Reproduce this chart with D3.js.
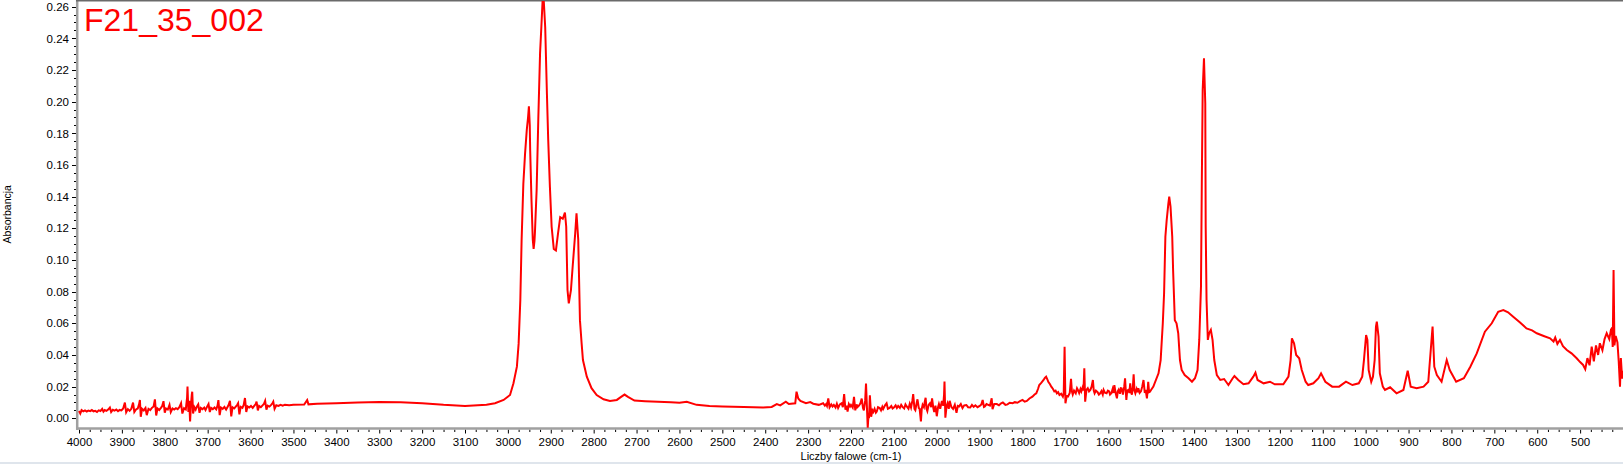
<!DOCTYPE html>
<html><head><meta charset="utf-8">
<script src="https://cdn.jsdelivr.net/npm/d3@7"></script>
<style>
html,body{margin:0;padding:0;background:#fff;overflow:hidden}
svg{display:block}
text{font-family:"Liberation Sans",Arial,sans-serif}
</style></head>
<body>
<svg id="c" width="1623" height="464"></svg>
<script>
// ---- data ----
const title = "F21_35_002";
const xLabel = "Liczby falowe (cm-1)";
const yLabel = "Absorbancja";
const xTickValues = d3.range(4000, 499, -100);
const yTickValues = [0,0.02,0.04,0.06,0.08,0.10,0.12,0.14,0.16,0.18,0.20,0.22,0.24,0.26];

// wavenumber (cm-1) / absorbance pairs, descending wavenumber
const highRegion = [
[4000,.0046],[3997,.0030],[3994,.0052],[3990,.0044],[3986,.0050],[3982,.0043],[3978,.0049],[3974,.0045],[3970,.0052],
[3966,.0044],[3962,.0047],[3958,.0040],[3954,.0050],[3950,.0046],[3946,.0060],[3943,.0042],[3940,.0052],[3936,.0047],
[3932,.0055],[3928,.0068],[3925,.0040],[3921,.0054],[3917,.0049],[3913,.0056],[3909,.0045],[3905,.0053],[3901,.0050],
[3897,.0062],[3893,.0099],[3890,.0038],[3886,.0058],[3882,.0047],[3878,.0060],[3874,.0099],[3871,.0040],[3867,.0056],
[3863,.0062],[3860,.0088],[3858,.0116],[3856,.0010],[3853,.0060],[3849,.0050],[3845,.0065],[3842,.0020],[3838,.0060],
[3834,.0052],[3830,.0066],[3826,.0075],[3823,.0120],[3820,.0018],[3817,.0062],[3813,.0052],[3809,.0066],[3806,.0078],
[3803,.0108],[3800,.0035],[3797,.0062],[3793,.0055],[3789,.0085],[3786,.0040],[3782,.0062],[3778,.0055],[3774,.0064],
[3770,.0058],[3766,.0070],[3762,.0095],[3759,.0030],[3755,.0064],[3751,.0056],[3748,.0130],[3747,.0200],[3745,.0040],
[3743,.0110],[3741,-.0020],[3739,.0085],[3737,.0150],[3736,.0168],[3734,.0030],[3731,.0070],[3728,.0055],[3725,.0075],
[3722,.0088],[3719,.0035],[3716,.0066],[3712,.0058],[3708,.0068],[3705,.0052],[3701,.0075],[3698,.0090],[3695,.0040],
[3692,.0066],[3688,.0058],[3684,.0068],[3680,.0056],[3677,.0080],[3675,.0115],[3672,.0020],[3669,.0068],[3665,.0060],
[3661,.0072],[3657,.0055],[3654,.0070],[3651,.0085],[3648,.0110],[3645,.0012],[3642,.0070],[3638,.0062],[3634,.0075],
[3631,.0085],[3629,.0095],[3626,.0025],[3623,.0072],[3619,.0066],[3616,.0085],[3613,.0128],[3610,.0040],[3607,.0075],
[3603,.0068],[3599,.0078],[3595,.0066],[3591,.0080],[3588,.0090],[3586,.0105],[3583,.0050],[3580,.0078],[3576,.0070],
[3572,.0082],[3569,.0090],[3566,.0110],[3563,.0055],[3560,.0080],[3556,.0074],[3552,.0085],[3549,.0095],[3547,.0105],
[3544,.0060],[3540,.0082],[3535,.0078],[3530,.0085],[3525,.0080],[3520,.0086],[3510,.0083],[3500,.0086],
[3475,.0087],[3468,.0115],[3465,.0088],[3445,.0092],[3400,.0095],[3350,.0100],[3300,.0103],[3250,.0101],
[3200,.0095],[3150,.0085],[3100,.0078],[3070,.0082],[3050,.0085],[3030,.0095],[3010,.0116]
];
const chRegion = [
[2995,0.0147],[2987,0.0221],[2979,0.0326],[2975,0.047],[2971,0.0747],[2968,0.1126],[2964,0.148],[2960,0.167],[2956,0.182],
[2953,0.19],[2951,0.197],[2949,0.185],[2948,0.169],[2945,0.138],[2942,0.113],[2940,0.107],[2938,0.112],[2937,0.117],[2933,0.144],
[2929,0.19],[2925,0.2305],[2922,0.247],[2918,0.27],[2916,0.262],[2913,0.247],[2909,0.205],[2906,0.176],[2902,0.146],[2898,0.121],
[2893,0.107],[2888,0.106],[2883,0.117],[2878,0.127],[2872,0.126],[2867,0.130],[2864,0.121],[2861,0.081],[2858,0.0726],[2853,0.081],
[2849,0.0957],[2843,0.117],[2840,0.1295],[2836,0.113],[2832,0.062],[2828,0.047],[2825,0.0368],[2816,0.0263],[2805,0.019],
[2793,0.0147],[2777,0.012],[2762,0.0109],[2746,0.0116],[2736,0.0135],[2728,0.015],[2720,0.0135],[2705,0.0112],[2680,0.0108],
[2650,0.0105],[2620,0.0101],[2600,0.0099]
];
const midRegion = [
[2583,.0105],[2560,.0085],[2530,.0078],[2500,.0075],[2450,.0072],[2405,.0068],[2385,.0072],[2373,.0090],[2365,.0082],
[2352,.0105],[2345,.0090],[2330,.0095],[2327,.0168],[2323,.0125],[2318,.0110],[2305,.0095],[2295,.0102],[2288,.0092],
[2275,.0085],[2265,.0095],[2261,.0080],[2258,.0090],[2256,.0078],[2253,.0126],[2250,.0070],[2246,.0088],[2243,.0075],
[2240,.0085],[2236,.0068],[2233,.0092],[2230,.0065],[2226,.0088],[2222,.0095],[2219,.0070],[2216,.0153],[2213,.0055],
[2210,.0080],[2208,.0042],[2205,.0090],[2202,.0075],[2200,.0085],[2196,.0068],[2193,.0135],[2190,.0050],[2187,.0088],
[2185,.0070],[2182,.0078],[2178,.0095],[2175,.0125],[2172,.0065],[2170,.0050],[2167,.0110],[2165,.0220],[2163,.0080],
[2161,-.0060],[2159,.0030],[2158,.0000],[2156,.0145],[2153,.0010],[2150,.0050],[2148,.0040],[2145,.0060],[2142,.0035],
[2140,.0042],[2137,.0070],[2133,.0065],[2130,.0050],[2127,.0072],[2125,.0058],[2121,.0080],[2117,.0095],[2114,.0060],
[2110,.0065],[2106,.0078],[2103,.0062],[2100,.0068],[2096,.0082],[2093,.0065],[2090,.0078],[2086,.0066],[2083,.0085],
[2080,.0072],[2076,.0062],[2073,.0088],[2070,.0075],[2066,.0060],[2063,.0092],[2060,.0068],[2057,.0110],[2055,.0153],
[2052,.0060],[2050,.0052],[2047,.0095],[2045,.0120],[2042,.0065],[2040,.0060],[2037,-.0020],[2035,.0060],[2033,.0085],
[2030,.0070],[2028,.0105],[2026,.0130],[2024,.0060],[2022,.0045],[2019,.0085],[2016,.0095],[2013,.0070],[2011,.0126],
[2008,.0065],[2006,.0040],[2003,.0080],[2000,.0013],[1997,.0070],[1995,.0090],[1992,.0060],[1988,.0110],[1985,.0080],
[1983,.0150],[1982,.0232],[1980,.0004],[1977,.0080],[1975,.0095],[1972,.0060],[1970,.0110],[1966,.0072],[1962,.0060],
[1958,.0085],[1954,.0035],[1951,.0078],[1948,.0075],[1944,.0090],[1940,.0065],[1936,.0082],[1931,.0084],[1927,.0070],
[1922,.0068],[1918,.0085],[1914,.0072],[1910,.0082],[1905,.0070],[1900,.0078],[1896,.0088],[1893,.0116],[1890,.0072],
[1888,.0075],[1884,.0090],[1880,.0085],[1876,.0080],[1872,.0126],[1870,.0057],[1866,.0090],[1860,.0090],[1855,.0082],
[1850,.0095],[1846,.0100],[1840,.0085],[1835,.0088],[1830,.0098],[1823,.0095],[1818,.0102],[1812,.0098],[1806,.0108],
[1800,.0116],[1795,.0105],[1790,.0110],[1784,.0125],[1777,.0137],[1772,.0150],[1768,.0158],[1764,.0185],[1761,.0210],
[1756,.0225],[1751,.0242],[1748,.0255],[1745,.0263],[1742,.0245],[1740,.0230],[1736,.0215],[1733,.0200],[1729,.0185],
[1726,.0170],[1723,.0175],[1720,.0158],[1717,.0165],[1714,.0147],[1710,.0155],[1706,.0137],[1704,.0160],[1702,.0452],
[1700,.0095],[1697,.0140],[1694,.0137],[1690,.0160],[1687,.0250],[1685,.0170],[1683,.0150],[1680,.0175],[1676,.0158],
[1673,.0190],[1671,.0180],[1668,.0160],[1665,.0185],[1663,.0170],[1660,.0195],[1658,.0175],[1656,.0316],[1654,.0105],
[1651,.0180],[1648,.0190],[1645,.0170],[1642,.0179],[1639,.0200],[1636,.0242],[1634,.0175],[1632,.0158],[1629,.0175],
[1625,.0165],[1622,.0150],[1619,.0158],[1616,.0172],[1613,.0150],[1611,.0179],[1608,.0162],[1604,.0158],[1601,.0175],
[1598,.0170],[1596,.0150],[1593,.0158],[1590,.0185],[1588,.0160],[1586,.0210],[1583,.0160],[1580,.0126],[1578,.0170],
[1576,.0180],[1573,.0155],[1571,.0190],[1569,.0189],[1566,.0150],[1563,.0200],[1561,.0253],[1559,.0160],[1558,.0116],
[1556,.0175],[1553,.0180],[1551,.0160],[1549,.0221],[1547,.0165],[1545,.0150],[1543,.0190],[1541,.0278],[1539,.0175],
[1537,.0158],[1534,.0185],[1532,.0165],[1530,.0190],[1527,.0160],[1524,.0170],[1521,.0200],[1518,.0242],[1515,.0160],
[1513,.0180],[1510,.0126],[1508,.0190],[1507,.0231],[1505,.0165],[1503,.0168],[1500,.0180]
];
const fingerprintRegion = [
[1495,0.020],[1483,0.0284],[1478,0.0368],[1473,0.060],[1470,0.079],[1467,0.1147],[1464,0.125],[1460,0.1358],[1458,0.140],
[1455,0.1337],[1451,0.1147],[1449,0.0937],[1445,0.062],[1441,0.060],[1437,0.0537],[1433,0.0368],[1429,0.0305],[1422,0.0273],
[1413,0.0253],[1405,0.0231],[1398,0.0253],[1392,0.0305],[1388,0.0495],[1384,0.083],[1382,0.1505],[1380,0.2074],[1377,0.2274],
[1374,0.199],[1373,0.121],[1371,0.0747],[1368,0.0495],[1365,0.0537],[1361,0.0558],[1357,0.0495],[1353,0.0368],[1347,0.0273],
[1339,0.0242],[1330,0.0248],[1320,0.021],[1310,0.0253],[1306,0.0267],[1297,0.0242],[1285,0.0215],[1273,0.0221],[1262,0.0263],
[1257,0.0288],[1252,0.0242],[1238,0.0221],[1223,0.0231],[1212,0.0215],[1192,0.0215],[1180,0.0263],[1175,0.0368],[1172,0.0505],
[1167,0.0474],[1162,0.040],[1155,0.0379],[1149,0.0305],[1140,0.0231],[1134,0.021],[1122,0.0221],[1110,0.0253],[1104,0.0284],
[1094,0.0231],[1078,0.020],[1062,0.020],[1046,0.0231],[1031,0.021],[1016,0.0221],[1008,0.0263],[1004,0.0368],[999,0.0526],
[996,0.0495],[993,0.0305],[987,0.0231],[983,0.0263],[979,0.0368],[976,0.0579],[974,0.061],[970,0.0516],[967,0.0284],[960,0.020],
[955,0.0179],[943,0.0196],[928,0.0158],[912,0.0179],[902,0.030],[895,0.020],[881,0.019],[865,0.020],[854,0.0231],[844,0.0579],
[840,0.0326],[834,0.0273],[823,0.0231],[811,0.0368],[804,0.0305],[789,0.0231],[771,0.0253],[756,0.0326],[741,0.041],[722,0.0547],
[706,0.060],[691,0.0673],[679,0.0684],[668,0.067],[656,0.0642],[640,0.0605],[625,0.0568],[612,0.0555],[601,0.0537],[585,0.052],
[570,0.0505],[562,0.0485],[558,0.051],[553,0.047],[547,0.0495],[540,0.0455],[531,0.0431],[520,0.041],[508,0.0379],[500,0.0355],
[493,0.0337],[488,0.031],[483,0.038],[478,0.0335],[473,0.0452],[468,0.036],[463,0.046],[458,0.04],[454,0.0474],[448,0.043],
[443,0.05],[438,0.0537],[432,0.05],[428,0.056],[426,0.0568],[424,0.045],[422,0.0937],[420,0.046],[417,0.052],[413,0.048],
[410,0.036],[407,0.020],[405,0.038],[402,0.025],[400,0.03]
];
const spectrum = [].concat(highRegion, chRegion, midRegion, fingerprintRegion);

// ---- layout ----
const W = 1623, H = 464;
const x0 = 79, x1 = 1623, yTop = 0, yBot = 428.5;
const x = d3.scaleLinear().domain([4000, 400]).range([x0, x1]);
const y = d3.scaleLinear().domain([-0.00644, 0.2642]).range([yBot, yTop]);

const svg = d3.select("#c");
svg.append("rect").attr("width", W).attr("height", H).attr("fill", "#fff");

svg.append("defs").append("clipPath").attr("id", "clip")
  .append("rect").attr("x", x0 - 1).attr("y", 1).attr("width", x1 - x0 + 1).attr("height", yBot - 1);

// minor ticks
const gx = svg.append("g");
d3.range(4000, 399, -25).forEach(v => {
  const major = v % 100 === 0;
  gx.append("line").attr("x1", x(v) + 0.5).attr("x2", x(v) + 0.5)
    .attr("y1", yBot + 1).attr("y2", yBot + (major ? 5 : 3.5))
    .attr("stroke", "#000").attr("stroke-width", 1);
});
const gy = svg.append("g");
d3.range(0, 0.2641, 0.005).forEach(v => {
  const major = Math.abs(Math.round(v * 1000) % 20) === 0;
  gy.append("line").attr("y1", Math.round(y(v)) + 0.5).attr("y2", Math.round(y(v)) + 0.5)
    .attr("x1", 76).attr("x2", major ? 72 : 74)
    .attr("stroke", "#000").attr("stroke-width", 1);
});

// axis labels via d3 axes
const xAxis = d3.axisBottom(x).tickValues(xTickValues).tickSize(0).tickSizeOuter(0).tickPadding(9).tickFormat(d3.format("d"));
const xa = svg.append("g").attr("transform", `translate(0,${yBot})`).call(xAxis);
xa.select(".domain").remove();
xa.selectAll("text").attr("font-size", 11.5).attr("fill", "#000").attr("font-family", '"Liberation Sans",Arial,sans-serif');

const yAxis = d3.axisLeft(y).tickValues(yTickValues).tickSize(0).tickSizeOuter(0).tickPadding(8).tickFormat(d3.format(".2f"));
const ya = svg.append("g").attr("transform", `translate(77,0)`).call(yAxis);
ya.select(".domain").remove();
ya.selectAll("text").attr("font-size", 11.5).attr("fill", "#000").attr("font-family", '"Liberation Sans",Arial,sans-serif');

// axis lines
svg.append("line").attr("x1", 76).attr("x2", W).attr("y1", yBot).attr("y2", yBot)
  .attr("stroke", "#a0a0a0").attr("stroke-width", 2.5);
svg.append("line").attr("x1", 77.2).attr("x2", 77.2).attr("y1", 0).attr("y2", yBot + 1.5)
  .attr("stroke", "#a0a0a0").attr("stroke-width", 2.5);
svg.append("line").attr("x1", 76).attr("x2", W).attr("y1", 0.75).attr("y2", 0.75)
  .attr("stroke", "#6a6a6a").attr("stroke-width", 1.5);

// spectrum
const line = d3.line().x(d => x(d[0])).y(d => y(d[1]));
svg.append("path").datum(spectrum).attr("clip-path", "url(#clip)")
  .attr("d", line).attr("fill", "none").attr("stroke", "#ff0000")
  .attr("stroke-width", 2).attr("stroke-linejoin", "miter");

// titles
svg.append("text").attr("x", 84).attr("y", 31).attr("fill", "#ff0000")
  .attr("font-size", 32).text(title);
svg.append("text").attr("x", (x0 + x1) / 2).attr("y", 460).attr("text-anchor", "middle")
  .attr("font-size", 11).attr("fill", "#000").text(xLabel);
svg.append("text").attr("transform", `translate(11,${(yTop + yBot) / 2}) rotate(-90)`)
  .attr("text-anchor", "middle").attr("font-size", 10.5).attr("fill", "#000").text(yLabel);

// bottom frame strip
svg.append("line").attr("x1", 0).attr("x2", W).attr("y1", 463).attr("y2", 463)
  .attr("stroke", "#dfe5ec").attr("stroke-width", 2);
</script>
</body></html>
